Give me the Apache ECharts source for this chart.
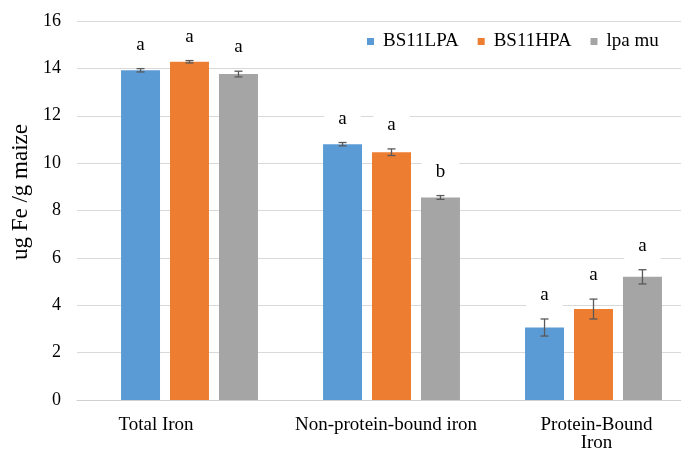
<!DOCTYPE html>
<html>
<head>
<meta charset="utf-8">
<script src="https://cdn.jsdelivr.net/npm/echarts@6/dist/echarts.min.js"></script>
<style>
html,body{margin:0;padding:0;background:#fff;}
#chart{width:681px;height:451px;}
</style>
</head>
<body>
<div id="chart"></div>
<script>
const categories = ['Total Iron', 'Non-protein-bound iron', 'Protein-Bound\nIron'];
const seriesNames = ['BS11LPA', 'BS11HPA', 'lpa mu'];
const lpaValues = [13.92, 10.80, 3.06];
const hpaValues = [14.28, 10.46, 3.84];
const muValues = [13.76, 8.55, 5.20];
const lpaErr = [0.07, 0.07, 0.36];
const hpaErr = [0.05, 0.14, 0.42];
const muErr = [0.12, 0.08, 0.30];
const lpaLetters = ['a', 'a', 'a'];
const hpaLetters = ['a', 'a', 'a'];
const muLetters = ['a', 'b', 'a'];
const yMin = 0, yMax = 16, yStep = 2;

const colors = ['#5B9BD5', '#ED7D31', '#A5A5A5'];
const allValues = [lpaValues, hpaValues, muValues];
const allErr = [lpaErr, hpaErr, muErr];
const allLetters = [lpaLetters, hpaLetters, muLetters];
const FONT = '"Liberation Serif", serif';
const BAR_FRAC = 0.193;
const GAP_FRAC = 0.256;
const labelShift = { 'Total Iron': ['r', 67], 'Non-protein-bound iron': ['r', 11], 'Protein-Bound\nIron': ['l', 6] };

const chart = echarts.init(document.getElementById('chart'), null, { renderer: 'canvas' });

const barSeries = seriesNames.map((n, i) => ({
  name: n, type: 'bar', xAxisIndex: 1, yAxisIndex: 1,
  data: allValues[i], barWidth: (BAR_FRAC * 100) + '%', barGap: (GAP_FRAC * 100) + '%',
  itemStyle: { color: colors[i] }, z: 2
}));

const errSeries = seriesNames.map((n, i) => ({
  name: 'err_' + n, type: 'custom', xAxisIndex: 1, yAxisIndex: 1, z: 5, clip: false,
  data: categories.map((c, j) => [j, allValues[i][j], allErr[i][j]]),
  encode: { x: 0, y: 1 },
  renderItem: function (params, api) {
    const j = api.value(0), v = api.value(1), e = api.value(2);
    const catW = api.size([1, 0])[0];
    const barW = catW * BAR_FRAC, gap = barW * GAP_FRAC;
    const cx = api.coord([j, v])[0] + (i - 1) * (barW + gap);
    const top = api.coord([j, v + e])[1];
    const bot = api.coord([j, v - e])[1];
    const cap = 4;
    const ls = { stroke: '#595959', lineWidth: 1.3 };
    return {
      type: 'group',
      children: [
        { type: 'line', shape: { x1: cx, y1: top, x2: cx, y2: bot }, style: ls },
        { type: 'line', shape: { x1: cx - cap, y1: top, x2: cx + cap, y2: top }, style: ls },
        { type: 'line', shape: { x1: cx - cap, y1: bot, x2: cx + cap, y2: bot }, style: ls },
        { type: 'text', x: cx, y: top - 24, z2: 10,
          style: { text: allLetters[i][params.dataIndex], fill: '#000', font: '19px "Liberation Serif", serif',
                   align: 'center', verticalAlign: 'middle', backgroundColor: '#fff', padding: [4, 14] } }
      ]
    };
  }
}));

chart.setOption({
  animation: false,
  backgroundColor: '#fff',
  textStyle: { fontFamily: FONT },
  legend: {
    data: seriesNames, left: 362, top: 27, icon: 'rect', itemWidth: 7, itemHeight: 7, itemGap: 19,
    formatter: function (n) { return '{s|' + n + '}'; },
    textStyle: { fontSize: 19, fontFamily: FONT, color: '#000', padding: [0, 0, 0, 4],
      rich: { s: { fontSize: 19, fontFamily: FONT, color: '#000' } } },
    selectedMode: false
  },
  grid: [
    { left: 77, right: 0, top: 21, bottom: 51, outerBoundsMode: 'none', containLabel: false },
    { left: 88.5, width: 606, top: 21, bottom: 51, outerBoundsMode: 'none', containLabel: false }
  ],
  xAxis: [
    { type: 'category', gridIndex: 0, data: [''], axisLine: { show: true, lineStyle: { color: '#d0d0d0', width: 1 } },
      axisTick: { show: false }, axisLabel: { show: false }, splitLine: { show: false } },
    { type: 'category', gridIndex: 1, data: categories, axisLine: { show: false }, axisTick: { show: false },
      splitLine: { show: false },
      axisLabel: {
        margin: 16, fontSize: 19, fontFamily: FONT, color: '#000', lineHeight: 18, interval: 0,
        formatter: function (val) {
          const s = labelShift[val];
          const key = s[0] + s[1];
          return val.split('\n').map(l => '{' + key + '|' + l + '}').join('\n');
        },
        rich: {
          r67: { padding: [0, 67, 0, 0], fontSize: 19, fontFamily: FONT, lineHeight: 18 },
          r11: { padding: [0, 11, 0, 0], fontSize: 19, fontFamily: FONT, lineHeight: 18 },
          l6: { padding: [0, 0, 0, 6], fontSize: 19, fontFamily: FONT, lineHeight: 18 }
        }
      } }
  ],
  yAxis: [
    { type: 'value', gridIndex: 0, min: yMin, max: yMax, interval: yStep,
      name: 'ug Fe /g maize', nameLocation: 'middle', nameGap: 44,
      nameTextStyle: { fontSize: 23, fontFamily: FONT, color: '#000', padding: [0, 0, 0, 37] },
      axisLine: { show: false }, axisTick: { show: false },
      axisLabel: { fontSize: 18, fontFamily: FONT, color: '#000', margin: 16,
        formatter: function (v) { return '{s|' + v + '}'; },
        rich: { s: { fontSize: 18, fontFamily: FONT, color: '#000' } } },
      splitLine: { show: true, lineStyle: { color: '#d9d9d9', width: 1 } } },
    { type: 'value', gridIndex: 1, min: yMin, max: yMax, interval: yStep, show: false,
      splitLine: { show: false } }
  ],
  series: barSeries.concat(errSeries)
});
</script>
</body>
</html>
